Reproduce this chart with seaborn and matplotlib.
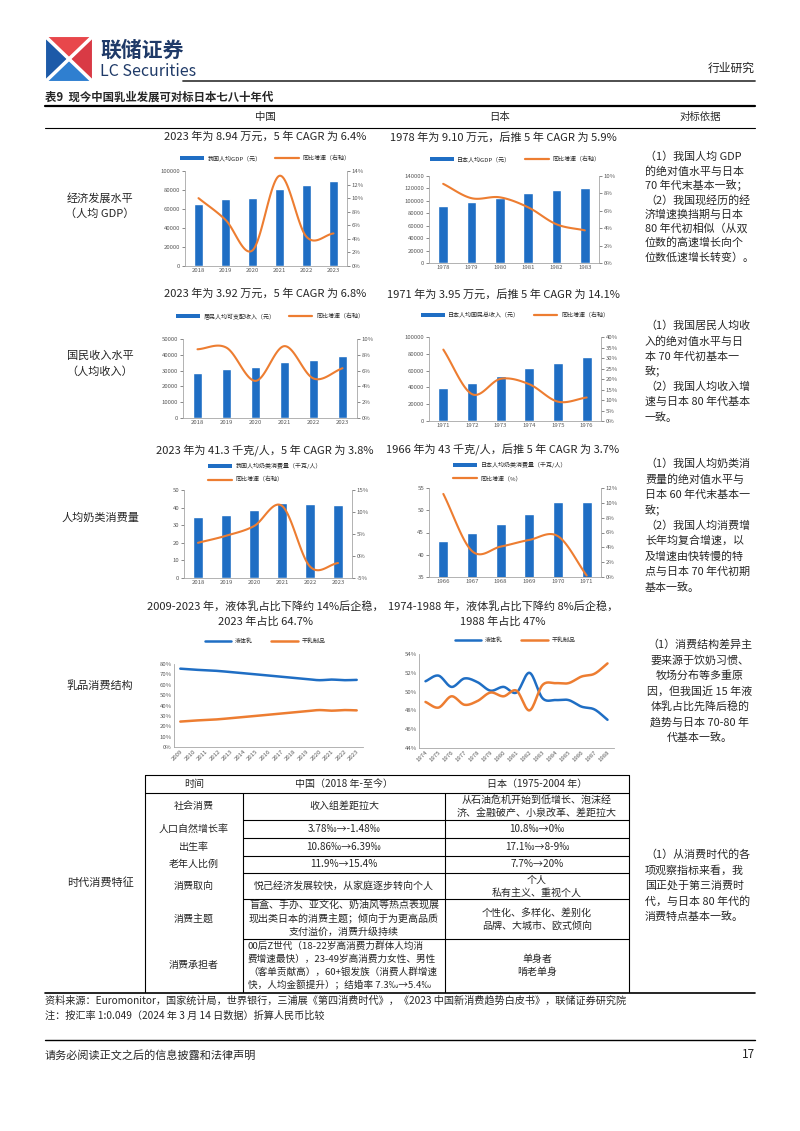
import numpy as np
import pandas as pd
import matplotlib
matplotlib.use("Agg")
import matplotlib.pyplot as plt
import seaborn as sns
from matplotlib.patches import Patch, Polygon
from matplotlib.lines import Line2D

sns.set_theme(style="white")
plt.rcParams["font.family"] = ["Noto Sans CJK SC", "DejaVu Sans"]
plt.rcParams["axes.unicode_minus"] = False

# ---------------- data ----------------
cn_gdp_years = ["2018", "2019", "2020", "2021", "2022", "2023"]
cn_gdp = [65500, 70100, 72000, 81400, 85700, 89400]
cn_gdp_growth = [10.0, 6.8, 2.3, 13.3, 4.3, 4.8]

jp_gdp_years = ["1978", "1979", "1980", "1981", "1982", "1983"]
jp_gdp = [91000, 97500, 104500, 112000, 117000, 121000]
jp_gdp_growth = [9.1, 7.45, 7.55, 6.4, 4.45, 3.75]

cn_inc_years = ["2018", "2019", "2020", "2021", "2022", "2023"]
cn_inc = [28228, 30733, 32189, 35128, 36883, 39218]
cn_inc_growth = [8.7, 8.9, 4.7, 9.1, 5.0, 6.3]

jp_inc_years = ["1971", "1972", "1973", "1974", "1975", "1976"]
jp_inc = [39500, 44700, 53800, 62800, 68800, 76300]
jp_inc_growth = [34.0, 12.8, 20.1, 17.5, 9.2, 11.2]

cn_dairy_years = ["2018", "2019", "2020", "2021", "2022", "2023"]
cn_dairy = [34.4, 35.8, 38.5, 42.6, 41.9, 41.3]
cn_dairy_growth = [3.0, 4.6, 6.8, 11.4, -2.4, -1.6]

jp_dairy_years = ["1966", "1967", "1968", "1969", "1970", "1971"]
jp_dairy = [43.2, 45.0, 46.8, 49.2, 51.8, 51.9]
jp_dairy_growth = [11.2, 3.5, 4.1, 5.0, 5.5, 0.2]

cn_struct_years = [str(y) for y in range(2009, 2024)]
cn_liquid = [75.5, 74.6, 74.0, 73.3, 72.2, 71.0, 70.0, 68.9, 67.8, 66.7, 65.6, 64.4, 65.0, 64.4, 64.7]
cn_dry = [24.5, 25.4, 26.0, 26.7, 27.8, 29.0, 30.0, 31.1, 32.2, 33.3, 34.4, 35.6, 35.0, 35.6, 35.3]

jp_struct_years = [str(y) for y in range(1974, 1989)]
jp_liquid = [51.1, 51.7, 50.5, 51.4, 51.0, 50.1, 50.5, 49.9, 52.0, 49.3, 49.1, 49.1, 48.4, 48.1, 47.0]
jp_dry = [48.9, 48.3, 49.5, 48.6, 49.0, 49.9, 49.5, 50.1, 48.0, 50.7, 50.9, 50.9, 51.6, 51.9, 53.0]

# ---------------- helpers ----------------
W, H = 800, 1131
BLUE = "#1F6EC4"
ORANGE = "#ED7D31"
GRAY = "#595959"
SPINE = "#A6A6A6"

fig = plt.figure(figsize=(8, 11.31), dpi=100)
fig.patch.set_facecolor("white")


def ax_at(x0, y0, x1, y1):
    return fig.add_axes([x0 / W, 1 - y1 / H, (x1 - x0) / W, (y1 - y0) / H])


def T(x, y, s, size=8, ha="center", va="center", **kw):
    fig.text(x / W, 1 - y / H, s, fontsize=size, ha=ha, va=va, **kw)


def lines_text(x, y0, dy, rows, size=8, ha="center", **kw):
    for i, s in enumerate(rows):
        T(x, y0 + i * dy, s, size=size, ha=ha, **kw)


def hline(y, x0, x1, lw=0.8, color="black"):
    fig.add_artist(Line2D([x0 / W, x1 / W], [1 - y / H, 1 - y / H],
                          transform=fig.transFigure, lw=lw, color=color))


def vline(x, y0, y1, lw=0.8, color="black"):
    fig.add_artist(Line2D([x / W, x / W], [1 - y0 / H, 1 - y1 / H],
                          transform=fig.transFigure, lw=lw, color=color))


def smooth(xs, ys, n=24):
    pts = np.column_stack([xs, ys]).astype(float)
    P = np.vstack([pts[0] * 2 - pts[1], pts, pts[-1] * 2 - pts[-2]])
    out = []
    t = np.linspace(0, 1, n, endpoint=False)[:, None]
    for i in range(1, len(P) - 2):
        p0, p1, p2, p3 = P[i - 1], P[i], P[i + 1], P[i + 2]
        seg = 0.5 * ((2 * p1) + (-p0 + p2) * t + (2 * p0 - 5 * p1 + 4 * p2 - p3) * t ** 2
                     + (-p0 + 3 * p1 - 3 * p2 + p3) * t ** 3)
        out.append(seg)
    out.append(pts[-1:])
    c = np.vstack(out)
    return c[:, 0], c[:, 1]


def style_axes(ax):
    ax.spines["top"].set_visible(False)
    for s in ["left", "bottom", "right"]:
        ax.spines[s].set_color(SPINE)
        ax.spines[s].set_linewidth(0.6)
    ax.tick_params(axis="both", labelsize=4.3, colors=GRAY, length=2, width=0.5, pad=1.5)
    ax.tick_params(axis="x", length=0)
    ax.set_xlabel("")
    ax.set_ylabel("")
    ax.grid(False)


def bar_line(box, years, bars, growth, ylim, yticks, rlim, rticks, labels, leg_xy,
             two_rows=False):
    ax = ax_at(*box)
    df = pd.DataFrame({"year": years, "val": bars})
    sns.barplot(data=df, x="year", y="val", color=BLUE, width=0.34, saturation=1, ax=ax)
    ax.set_ylim(*ylim)
    ax.set_yticks(yticks)
    ax.set_yticklabels([f"{v:g}" for v in yticks])
    style_axes(ax)
    ax.spines["right"].set_visible(False)
    ax2 = ax.twinx()
    xs, ys = smooth(np.arange(len(years)), growth)
    sns.lineplot(x=xs, y=ys, color=ORANGE, lw=1.5, sort=False, estimator=None, ax=ax2)
    ax2.set_ylim(*rlim)
    ax2.set_yticks(rticks)
    ax2.set_yticklabels([f"{v:g}%" for v in rticks])
    style_axes(ax2)
    ax2.spines["left"].set_visible(False)
    ax2.spines["bottom"].set_visible(False)
    ax.set_xlim(-0.5, len(years) - 0.5)
    handles = [Patch(facecolor=BLUE, edgecolor="none"), Line2D([], [], color=ORANGE, lw=1.6)]
    if two_rows:
        ax2.legend(handles, labels, loc="upper left",
                   bbox_to_anchor=(leg_xy[0] / W, 1 - leg_xy[1] / H),
                   bbox_transform=fig.transFigure, ncol=1, frameon=False, fontsize=4.3,
                   handlelength=4.0, handleheight=0.7, handletextpad=0.6,
                   borderaxespad=0, borderpad=0, labelspacing=1.3)
    else:
        ax2.legend(handles, labels, loc="center",
                   bbox_to_anchor=(leg_xy[0] / W, 1 - leg_xy[1] / H),
                   bbox_transform=fig.transFigure, ncol=2, frameon=False, fontsize=4.3,
                   handlelength=4.0, handleheight=0.7, handletextpad=0.6,
                   columnspacing=2.2, borderaxespad=0, borderpad=0)
    return ax, ax2


def struct_chart(box, years, liquid, dry, ylim, yticks, leg_xy):
    ax = ax_at(*box)
    xl, yl = smooth(np.arange(len(years)), liquid, n=16)
    xd, yd = smooth(np.arange(len(years)), dry, n=16)
    sns.lineplot(x=xl, y=yl, color=BLUE, lw=1.8, sort=False, estimator=None, ax=ax)
    sns.lineplot(x=xd, y=yd, color=ORANGE, lw=1.8, sort=False, estimator=None, ax=ax)
    ax.set_xlim(-0.5, len(years) - 0.5)
    ax.set_ylim(*ylim)
    ax.set_yticks(yticks)
    ax.set_yticklabels([f"{v:g}%" for v in yticks])
    ax.set_xticks(np.arange(len(years)))
    ax.set_xticklabels(years, rotation=45, ha="right", rotation_mode="anchor")
    style_axes(ax)
    ax.spines["right"].set_visible(False)
    ax.tick_params(axis="y", length=0)
    handles = [Line2D([], [], color=BLUE, lw=1.8), Line2D([], [], color=ORANGE, lw=1.8)]
    ax.legend(handles, ["液体乳", "干乳制品"], loc="center",
              bbox_to_anchor=(leg_xy[0] / W, 1 - leg_xy[1] / H),
              bbox_transform=fig.transFigure, ncol=2, frameon=False, fontsize=4.3,
              handlelength=4.5, handletextpad=0.6, columnspacing=3.0,
              borderaxespad=0, borderpad=0)
    return ax


# ---------------- page header ----------------
cx, cy = 69, 59
tl, tr, br, bl = (45, 36), (93, 36), (93, 82), (45, 82)
for pts, col in [([tl, bl, (cx, cy)], "#1D5AA8"), ([tl, tr, (cx, cy)], "#E8474B"),
                 ([tr, br, (cx, cy)], "#D93A45"), ([bl, br, (cx, cy)], "#2F7FD0")]:
    fig.add_artist(Polygon([(px / W, 1 - py / H) for px, py in pts], closed=True,
                           transform=fig.transFigure, facecolor=col, edgecolor="white", lw=1.5))
fig.add_artist(Line2D([tl[0] / W, br[0] / W], [1 - tl[1] / H, 1 - br[1] / H],
                      transform=fig.transFigure, color="white", lw=2.5))
fig.add_artist(Line2D([bl[0] / W, tr[0] / W], [1 - bl[1] / H, 1 - tr[1] / H],
                      transform=fig.transFigure, color="white", lw=2.5))
T(100, 50, "联储证券", size=15, ha="left", color="#1F3A68", fontweight="bold")
T(100, 72, "LC Securities", size=11.5, ha="left", color="#1F3A68")
hline(81, 183, 755, lw=1.3, color="#404040")
T(755, 68, "行业研究", size=8.5, ha="right", color="#222222")

T(45, 97, "表9  现今中国乳业发展可对标日本七八十年代", size=8.2, ha="left", fontweight="bold")
hline(106, 45, 755, lw=1.6)
T(265, 117, "中国", size=7.5)
T(500, 117, "日本", size=7.5)
T(700, 117, "对标依据", size=7.5)
hline(128, 45, 755, lw=0.8)

# row labels
T(100, 198, "经济发展水平", size=8)
T(100, 214, "（人均 GDP）", size=8)
T(100, 356, "国民收入水平", size=8)
T(100, 372, "（人均收入）", size=8)
T(100, 518, "人均奶类消费量", size=8)
T(100, 686, "乳品消费结构", size=8)
T(100, 883, "时代消费特征", size=8)

# chart titles
T(265, 137, "2023 年为 8.94 万元，5 年 CAGR 为 6.4%", size=8)
T(503, 137, "1978 年为 9.10 万元，后推 5 年 CAGR 为 5.9%", size=8)
T(265, 294, "2023 年为 3.92 万元，5 年 CAGR 为 6.8%", size=8)
T(503, 294, "1971 年为 3.95 万元，后推 5 年 CAGR 为 14.1%", size=8)
T(265, 450, "2023 年为 41.3 千克/人，5 年 CAGR 为 3.8%", size=8)
T(503, 450, "1966 年为 43 千克/人，后推 5 年 CAGR 为 3.7%", size=8)
T(265, 606, "2009-2023 年，液体乳占比下降约 14%后企稳，", size=8)
T(265, 622, "2023 年占比 64.7%", size=8)
T(503, 606, "1974-1988 年，液体乳占比下降约 8%后企稳，", size=8)
T(503, 622, "1988 年占比 47%", size=8)

# ---------------- charts ----------------
bar_line((185, 171, 347, 266), cn_gdp_years, cn_gdp, cn_gdp_growth,
         (0, 100000), np.arange(0, 100001, 20000), (0, 14), np.arange(0, 15, 2),
         ["我国人均GDP（元）", "同比增速（右轴）"], (265, 158))
bar_line((429, 176, 599, 263), jp_gdp_years, jp_gdp, jp_gdp_growth,
         (0, 140000), np.arange(0, 140001, 20000), (0, 10), np.arange(0, 11, 2),
         ["日本人均GDP（元）", "同比增速（右轴）"], (515, 159))
bar_line((183, 339, 357, 418), cn_inc_years, cn_inc, cn_inc_growth,
         (0, 50000), np.arange(0, 50001, 10000), (0, 10), np.arange(0, 11, 2),
         ["居民人均可支配收入（元）", "同比增速（右轴）"], (270, 316))
bar_line((429, 337, 601, 421), jp_inc_years, jp_inc, jp_inc_growth,
         (0, 100000), np.arange(0, 100001, 20000), (0, 40), np.arange(0, 41, 5),
         ["日本人均国民总收入（元）", "同比增速（右轴）"], (515, 315))
bar_line((184, 490, 352, 578), cn_dairy_years, cn_dairy, cn_dairy_growth,
         (0, 50), np.arange(0, 51, 10), (-5, 15), np.arange(-5, 16, 5),
         ["我国人均奶类消费量（千克/人）", "同比增速（右轴）"], (208, 463), two_rows=True)
bar_line((429, 488, 601, 577), jp_dairy_years, jp_dairy, jp_dairy_growth,
         (35, 55), np.arange(35, 56, 5), (0, 12), np.arange(0, 13, 2),
         ["日本人均奶类消费量（千克/人）", "同比增速（%）"], (453, 462), two_rows=True)
struct_chart((174, 664, 363, 747), cn_struct_years, cn_liquid, cn_dry,
             (0, 80), np.arange(0, 81, 10), (265, 641))
struct_chart((419, 654, 614, 748), jp_struct_years, jp_liquid, jp_dry,
             (44, 54), np.arange(44, 55, 2), (515, 640))

# ---------------- right column text ----------------
lines_text(645, 157, 14.3, ["（1）我国人均 GDP", "的绝对值水平与日本", "70 年代末基本一致；",
                            "（2）我国现经历的经", "济增速换挡期与日本", "80 年代初相似（从双",
                            "位数的高速增长向个", "位数低速增长转变）。"], size=7.9, ha="left")
lines_text(645, 326, 15.2, ["（1）我国居民人均收", "入的绝对值水平与日", "本 70 年代初基本一",
                            "致；", "（2）我国人均收入增", "速与日本 80 年代基本", "一致。"],
           size=7.9, ha="left")
lines_text(645, 464, 15.4, ["（1）我国人均奶类消", "费量的绝对值水平与", "日本 60 年代末基本一",
                            "致；", "（2）我国人均消费增", "长年均复合增速，以", "及增速由快转慢的特",
                            "点与日本 70 年代初期", "基本一致。"], size=7.9, ha="left")
lines_text(700, 645, 15.4, ["（1）消费结构差异主", "要来源于饮奶习惯、", "牧场分布等多重原",
                            "因，但我国近 15 年液", "体乳占比先降后稳的", "趋势与日本 70-80 年",
                            "代基本一致。"], size=7.9, ha="center")
lines_text(645, 855, 15.4, ["（1）从消费时代的各", "项观察指标来看，我", "国正处于第三消费时",
                            "代，与日本 80 年代的", "消费特点基本一致。"], size=7.9, ha="left")

# ---------------- sub table ----------------
L, C1, C2, R = 145, 243, 445, 629
TOP, HB, BOT = 775, 793, 992
hline(TOP, L, R)
hline(HB, L, R)
vline(L, TOP, BOT)
vline(R, TOP, BOT)
vline(C1, HB, BOT)
vline(C2, HB, BOT)
for yy in [820, 838, 856, 873, 899, 939]:
    hline(yy, C1, R)
c1x, c2x, c3x = (L + C1) / 2, (C1 + C2) / 2, (C2 + R) / 2
ts = 7.2
T(c1x, 784, "时间", size=ts)
T(c2x, 784, "中国（2018 年-至今）", size=ts)
T(c3x, 784, "日本（1975-2004 年）", size=ts)
for y, lab in [(806, "社会消费"), (829, "人口自然增长率"), (847, "出生率"), (864, "老年人比例"),
               (886, "消费取向"), (919, "消费主题"), (965, "消费承担者")]:
    T(c1x, y, lab, size=ts)
T(c2x, 806, "收入组差距拉大", size=ts)
lines_text(c3x, 800, 13, ["从石油危机开始到低增长、泡沫经", "济、金融破产、小泉改革、差距拉大"], size=ts)
T(c2x, 829, "3.78‰→-1.48‰", size=ts)
T(c3x, 829, "10.8‰→0‰", size=ts)
T(c2x, 847, "10.86‰→6.39‰", size=ts)
T(c3x, 847, "17.1‰→8-9‰", size=ts)
T(c2x, 864, "11.9%→15.4%", size=ts)
T(c3x, 864, "7.7%→20%", size=ts)
T(c2x, 886, "悦己经济发展较快，从家庭逐步转向个人", size=ts)
lines_text(c3x, 880, 13, ["个人", "私有主义、重视个人"], size=ts)
lines_text(c2x, 906, 13, ["盲盒、手办、亚文化、奶油风等热点表现展", "现出类日本的消费主题；倾向于为更高品质",
                          "支付溢价，消费升级持续"], size=ts)
lines_text(c3x, 913, 13, ["个性化、多样化、差别化", "品牌、大城市、欧式倾向"], size=ts)
lines_text(248, 946, 13, ["00后Z世代（18-22岁高消费力群体人均消", "费增速最快），23-49岁高消费力女性、男性",
                          "（客单贡献高），60+银发族（消费人群增速", "快，人均金额提升）；结婚率 7.3‰→5.4‰"],
           size=6.9, ha="left")
lines_text(c3x, 959, 13, ["单身者", "啃老单身"], size=ts)

# ---------------- footer ----------------
hline(993, 45, 755, lw=1.2)
T(45, 1001, "资料来源：Euromonitor，国家统计局，世界银行，三浦展《第四消费时代》，《2023 中国新消费趋势白皮书》，联储证券研究院",
  size=7.3, ha="left")
T(45, 1016, "注：按汇率 1:0.049（2024 年 3 月 14 日数据）折算人民币比较", size=7.3, ha="left")
hline(1040, 45, 755, lw=1.0)
T(45, 1055, "请务必阅读正文之后的信息披露和法律声明", size=8, ha="left")
T(755, 1055, "17", size=8.5, ha="right")

fig.savefig("out.png", dpi=100)
